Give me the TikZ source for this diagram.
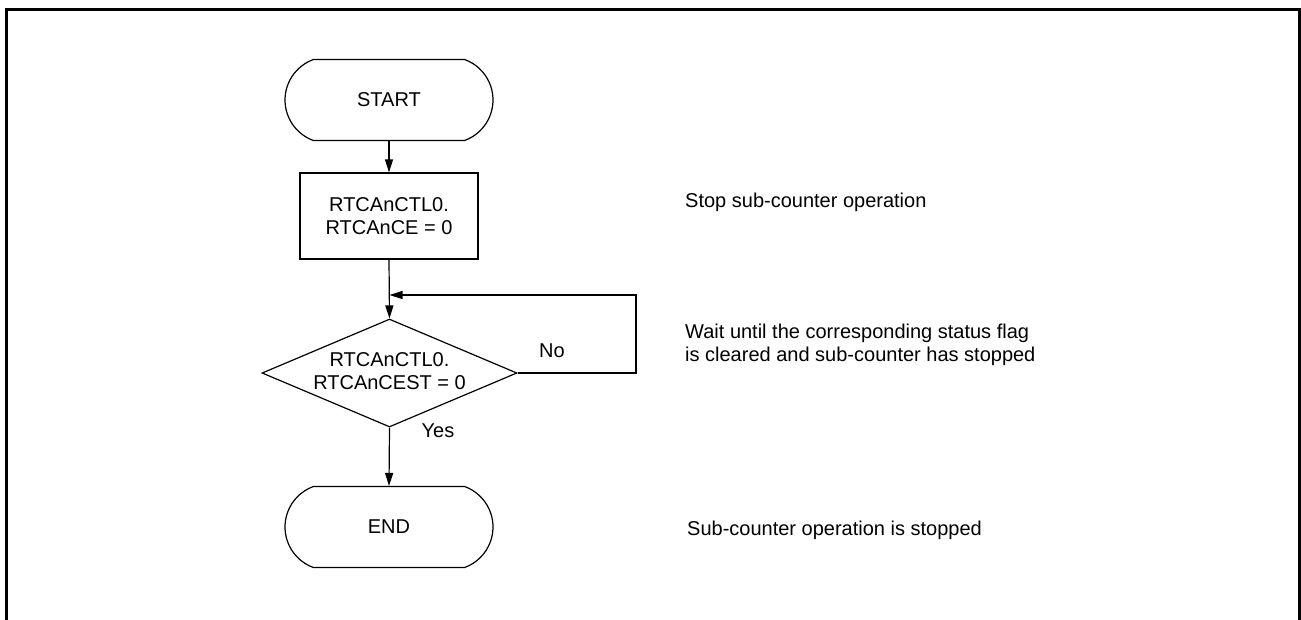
\documentclass[tikz,border=0pt]{standalone}
\usepackage{fontspec}
\setmainfont{Liberation Sans}
\usetikzlibrary{arrows.meta,shapes.misc,shapes.geometric}
\begin{document}
\begin{tikzpicture}[x=1pt,y=-1pt,
  every node/.style={font=\fontsize{20}{23.5}\selectfont, inner sep=0pt},
  term/.style={rounded rectangle, rounded rectangle arc length=140, draw, line width=1.2pt, minimum width=208, minimum height=81},
  procbox/.style={rectangle, draw, line width=1.2pt, minimum width=178, minimum height=86, align=center},
  decis/.style={diamond, draw, line width=1.2pt, minimum width=255, minimum height=108, aspect=2.36},
  conn/.style={line width=1.2pt, -{Triangle[length=13pt,width=8pt]}},
  note/.style={anchor=west, align=left}]
\useasboundingbox (0,0) rectangle (1301,619);
\draw[line width=3pt] (6,640) -- (6,9) -- (1299.5,9) -- (1299.5,640);
\node[term] (start) at (389,100) {START};
\node[procbox] (box) at (389,216) {RTCAnCTL0.\\RTCAnCE = 0};
\node[decis] (dec) at (389.5,373) {};
\node[align=center] (dectext) at (389.5,371) {RTCAnCTL0.\\RTCAnCEST = 0};
\node[term] (end) at (389,527) {END};
\coordinate (loopA) at (636,373);
\coordinate (loopB) at (636,295);
\coordinate (loopC) at (389.5,295);
\draw[conn] (start.south) -- (box.north);
\draw[conn] (box.south) -- (dec.north);
\draw[conn] (dec.east) -- (loopA) -- (loopB) -- (loopC);
\draw[conn] (dec.south) -- (end.north);
\node (no) at (552,351) {No};
\node (yes) at (438,431) {Yes};
\node[note] (n1) at (685,202) {Stop sub-counter operation};
\node[note] (n2) at (685,345) {Wait until the corresponding status flag\\is cleared and sub-counter has stopped};
\node[note] (n3) at (687,530) {Sub-counter operation is stopped};
\end{tikzpicture}
\end{document}
